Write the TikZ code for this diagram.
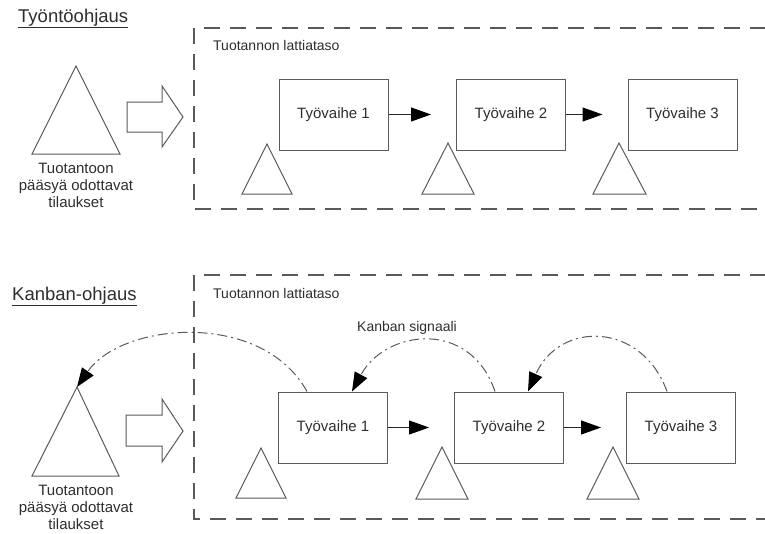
\documentclass[tikz,border=0pt]{standalone}
\usepackage{fontspec}
\setmainfont{Liberation Sans}
\usetikzlibrary{arrows.meta}
\definecolor{ln}{HTML}{5A5A5A}
\definecolor{tx}{HTML}{2E2E2E}
\begin{document}
\begin{tikzpicture}[x=1pt,y=-1pt,
  stepbox/.style={draw=ln, line width=1pt, minimum width=109pt, minimum height=71pt,
    inner sep=0pt, font=\fontsize{15}{17}\selectfont, text=tx},
  heading/.style={anchor=base west, inner sep=0pt, font=\fontsize{18.5}{22}\selectfont, text=tx},
  label/.style={anchor=west, inner sep=0pt, font=\fontsize{14}{17}\selectfont, text=tx},
  caption/.style={align=center, inner sep=0pt, font=\fontsize{15}{17}\selectfont, text=tx},
  stock/.style={draw=ln, line width=1pt, line join=miter},
  frame/.style={draw=ln, line width=1.2pt, dash pattern=on 16pt off 10pt},
  bigarrow/.style={draw=ln, line width=1pt, fill=white, line join=miter},
  flow/.style={draw=black!85, line width=1pt, -{Triangle[length=20pt,width=14pt,fill=black,color=black]}, shorten >=25pt},
  signal/.style={draw=ln, line width=1pt, dash pattern=on 10pt off 4pt on 2pt off 4pt,
    -{Triangle[length=19pt,width=14pt,fill=black,color=black]}}
]
\useasboundingbox (0,0) rectangle (765,533);

% ---------- push control ----------
\node[heading] (t1) at (18,22) {\underline{Työntöohjaus}};

\draw[frame] (766,28) -- (194,28) -- (194,209) -- (766,209);
\node[label] (f1) at (213,45) {Tuotannon lattiataso};

% order backlog
\draw[stock] (76,66) coordinate (q1) -- (120,154) -- (32,154) -- cycle;
\node[caption] (c1) at (76,185) {Tuotantoon\\pääsyä odottavat\\tilaukset};

% release arrow
\draw[bigarrow] (127,102) -- (162,102) -- (162,86) -- (183,117) -- (162,147) -- (162,132) -- (127,132) -- cycle;

% work phases
\node[stepbox] (a1) at (333.5,114.5) {Työvaihe 1};
\node[stepbox] (a2) at (511,114.5) {Työvaihe 2};
\node[stepbox] (a3) at (682.5,114.5) {Työvaihe 3};
\draw[flow] (a1) -- (a2);
\draw[flow] (a2) -- (a3);

% buffers
\draw[stock] (267,144) -- (292,194) -- (242,194) -- cycle;
\draw[stock] (448,143) -- (474,194) -- (422,194) -- cycle;
\draw[stock] (619,143) -- (646,194) -- (593,194) -- cycle;

% ---------- kanban control ----------
\node[heading] (t2) at (12,300) {\underline{Kanban-ohjaus}};

\draw[frame] (766,275) -- (194,275) -- (194,519) -- (766,519);
\node[label] (f2) at (213,293) {Tuotannon lattiataso};
\node[label] (ks) at (357,328) {Kanban signaali};

% order backlog
\draw[stock] (77,387) coordinate (q2) -- (119,476) -- (32,476) -- cycle;
\node[caption] (c2) at (76,507) {Tuotantoon\\pääsyä odottavat\\tilaukset};

% release arrow
\draw[bigarrow] (126,415) -- (162,415) -- (162,399) -- (183,431) -- (162,462) -- (162,446) -- (126,446) -- cycle;

% work phases
\node[stepbox] (k1) at (333,427.5) {Työvaihe 1};
\node[stepbox] (k2) at (509,427.5) {Työvaihe 2};
\node[stepbox] (k3) at (681,427.5) {Työvaihe 3};
\draw[flow] (k1) -- (k2);
\draw[flow] (k2) -- (k3);

% buffers
\draw[stock] (261,448) -- (286,498) -- (236,498) -- cycle;
\draw[stock] (442,447) -- (468,499) -- (416,499) -- cycle;
\draw[stock] (613,447) -- (639,499) -- (587,499) -- cycle;

% kanban signals
\draw[signal] ([xshift=-26pt]k1.north) .. controls (262,310) and (122,322) .. (q2);
\draw[signal] ([xshift=-14pt]k2.north) .. controls (470,318) and (385,330) .. ([xshift=19pt]k1.north);
\draw[signal] ([xshift=-14pt]k3.north) .. controls (642,322) and (560,320) .. ([xshift=19pt]k2.north);
\end{tikzpicture}
\end{document}
